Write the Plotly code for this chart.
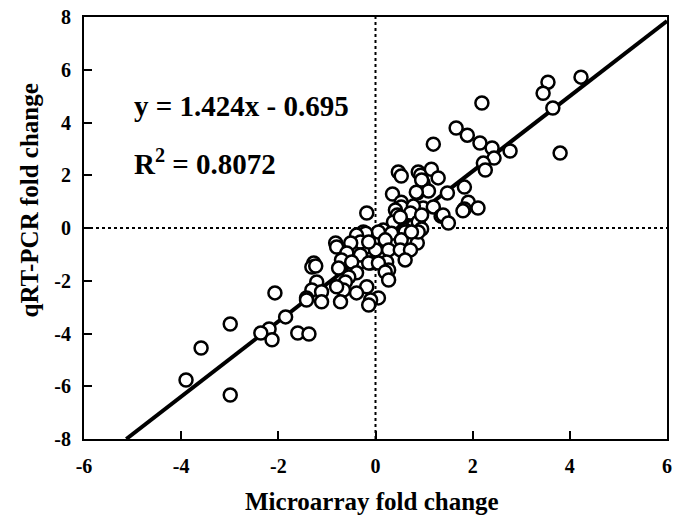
import plotly.graph_objects as go

microarray = [4.23, 3.55, 3.45, 3.65, 3.80, 2.19, 1.66, 1.89, 2.15, 2.40, 2.77, 2.44, 2.22, 2.26, 1.19,
              1.83, 1.48, 1.91, 1.83, 1.80, 2.11,
              0.47, 0.53, 0.88, 0.93, 1.15, 1.29, 0.98, 0.95, 0.86, 1.09, 0.35, 0.84, 0.53, 0.53, 0.82,
              0.98, 1.19, 0.41, 0.78, 0.45, 0.72, 1.35, 1.39, 1.50, 0.37, 0.88, 0.95, 0.51, 0.95,
              -0.18, 0.16, 0.33, 0.61, 0.00, 0.86, -0.25, 0.06, 0.61, 0.88, 0.20, 0.53, -0.20, 0.00,
              0.27, 0.51, 0.72, 0.23, 0.61, -0.10, 0.27, -0.35, 0.74,
              -0.20, -0.39, -0.31, -0.51, -0.82, -0.80, -0.14, -0.59, -0.31, -0.70, -0.49, -0.14, 0.06,
              -1.27, -1.31, -1.23, -0.76, -0.39, -0.55, 0.20, 0.27, -1.21, -0.62, -0.18, -1.31, -1.11,
              -0.66, 0.06, -0.10, -1.42, -1.11, -0.72, -0.14, -0.80, -0.39, -1.42,
              -2.07, -1.85, -2.19, -2.36, -2.13, -1.60, -1.37, -2.99, -3.59, -3.90, -2.99]
qrtpcr = [5.72, 5.53, 5.11, 4.55, 2.84, 4.74, 3.79, 3.52, 3.22, 3.03, 2.92, 2.65, 2.46, 2.20, 3.18,
          1.55, 1.33, 0.98, 0.72, 0.65, 0.76,
          2.12, 1.97, 2.12, 2.00, 2.23, 1.90, 1.70, 1.82, 1.33, 1.40, 1.29, 1.36, 0.98, 0.80, 0.76,
          0.76, 0.80, 0.68, 0.83, 0.49, 0.57, 0.45, 0.49, 0.19, 0.23, 0.23, -0.04, 0.42, 0.49,
          0.57, -0.08, -0.20, -0.08, -0.38, -0.57, -0.15, -0.15, -0.15, -0.15, -0.45, -0.45, -0.72, -0.83,
          -0.83, -0.83, -0.83, -1.29, -1.21, -1.33, -1.59, -1.33, -0.15,
          -0.20, -0.27, -0.53, -0.57, -0.57, -0.72, -0.53, -0.95, -1.02, -1.21, -1.29, -1.33, -1.33,
          -1.33, -1.48, -1.44, -1.52, -1.70, -1.86, -1.67, -1.97, -2.05, -2.05, -2.23, -2.35, -2.42,
          -2.35, -2.65, -2.73, -2.65, -2.80, -2.80, -2.92, -2.23, -2.46, -2.73,
          -2.46, -3.37, -3.83, -3.98, -4.24, -3.98, -4.02, -3.64, -4.55, -5.76, -6.33]

slope = 1.424
intercept = -0.695
x_ticks = [-6, -4, -2, 0, 2, 4, 6]
y_ticks = [-8, -6, -4, -2, 0, 2, 4, 6, 8]
x_range = [-6, 6]
y_range = [-8, 8]

fit_x = [(y_range[0] - intercept) / slope, x_range[1]]
fit_y = [slope * v + intercept for v in fit_x]

FONT = "Liberation Serif"

fig = go.Figure()
fig.add_trace(go.Scatter(x=fit_x, y=fit_y, mode="lines",
                         line=dict(color="black", width=4), showlegend=False))
fig.add_trace(go.Scatter(x=microarray, y=qrtpcr, mode="markers",
                         marker=dict(symbol="circle", size=13, color="white",
                                     line=dict(color="black", width=2.5)),
                         showlegend=False))

fig.add_shape(type="line", x0=0, x1=0, y0=y_range[0], y1=y_range[1], xref="x", yref="y",
              line=dict(color="black", width=2, dash="dot"), layer="below")
fig.add_shape(type="line", x0=x_range[0], x1=x_range[1], y0=0, y1=0, xref="x", yref="y",
              line=dict(color="black", width=2, dash="dot"), layer="below")

axis_common = dict(showgrid=False, zeroline=False, showline=True, linecolor="black",
                   linewidth=2, mirror=True, ticks="inside", ticklen=8, tickwidth=2,
                   tickcolor="black",
                   tickfont=dict(family=FONT, size=20, color="black"))

fig.update_xaxes(range=x_range, tickvals=x_ticks, ticktext=[f"<b>{v}</b>" for v in x_ticks],
                 ticklabelstandoff=8, **axis_common)
fig.update_yaxes(range=y_range, tickvals=y_ticks, ticktext=[f"<b>{v}</b>" for v in y_ticks],
                 ticklabelstandoff=7, **axis_common)

fig.add_annotation(text="<b>y = 1.424x - 0.695</b>", xref="paper", yref="paper", x=0.083, y=0.789,
                   xanchor="left", yanchor="middle", showarrow=False,
                   font=dict(family=FONT, size=29, color="black"))
fig.add_annotation(text="<b>R<sup>2</sup> = 0.8072</b>", xref="paper", yref="paper", x=0.083, y=0.656,
                   xanchor="left", yanchor="middle", showarrow=False,
                   font=dict(family=FONT, size=29, color="black"))
fig.add_annotation(text="<b>Microarray fold change</b>", xref="paper", yref="paper",
                   x=(374 - 84) / 588, y=-(502 - 439) / 422,
                   xanchor="center", yanchor="middle", showarrow=False,
                   font=dict(family=FONT, size=25, color="black"))
fig.add_annotation(text="<b>qRT-PCR fold change</b>", xref="paper", yref="paper",
                   x=-(84 - 29) / 588, y=(439 - 200) / 422, textangle=-90,
                   xanchor="center", yanchor="middle", showarrow=False,
                   font=dict(family=FONT, size=25, color="black"))

fig.update_layout(width=677, height=522, margin=dict(l=84, r=5, t=17, b=83),
                  plot_bgcolor="white", paper_bgcolor="white")

fig.write_html("out.html")
